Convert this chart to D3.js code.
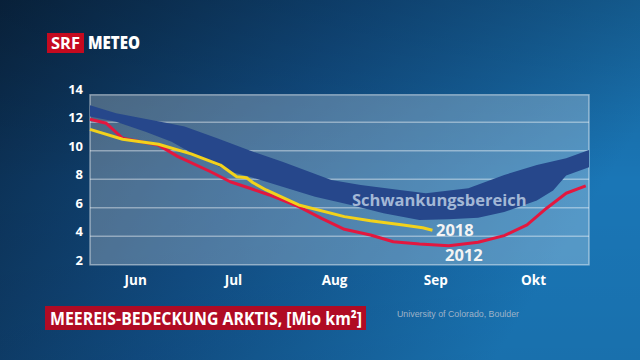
<!DOCTYPE html>
<html><head><meta charset="utf-8">
<script src="https://cdn.jsdelivr.net/npm/d3@7"></script>
<style>html,body{margin:0;padding:0;background:#0b2b4c;}svg{display:block;}</style>
</head><body>
<svg id="c" width="640" height="360"></svg>
<script>
// ---- data (Mio km², dates 2018 calendar) ----
const bandDatesTop = ["06-01","06-09","06-25","06-30","07-10","07-21","07-30","08-14","08-23","09-04","09-12","09-25","10-06","10-16","10-25","11-01"];
const bandTop      = [13.2,12.63,11.93,11.7,10.88,9.94,9.23,7.95,7.6,7.25,7.02,7.37,8.3,9.0,9.47,10.06];
const bandDatesBottom = ["06-01","06-09","06-18","06-26","07-05","07-14","07-20","07-30","08-09","08-20","08-30","09-10","09-19","09-28","10-06","10-16","10-21","10-25","11-01"];
const bandBottom      = [12.4,12.04,11.34,10.64,9.47,8.53,8.18,7.48,6.78,6.2,5.61,5.14,5.2,5.3,5.7,6.52,7.22,8.27,8.85];
const dates2012 = ["06-01","06-06","06-11","06-22","06-28","07-08","07-14","07-20","07-26","08-04","08-11","08-18","08-26","09-02","09-10","09-19","09-28","10-06","10-13","10-19","10-25","10-31"];
const values2012 = [12.21,11.93,10.88,10.4,9.59,8.53,7.83,7.37,6.9,6.08,5.26,4.49,4.09,3.62,3.46,3.34,3.58,4.05,4.8,5.97,7.02,7.54];
const dates2018 = ["06-01","06-11","06-22","07-02","07-11","07-16","07-19","07-21","07-25","08-04","08-18","08-26","09-05","09-11","09-14"];
const values2018 = [11.5,10.81,10.46,9.78,9.0,8.18,8.11,7.76,7.25,6.2,5.38,5.09,4.79,4.6,4.43];
const monthLabels = ["Jun","Jul","Aug","Sep","Okt"];
const monthTickDates = ["06-15","07-15","08-15","09-15","10-15"];
const yTicks = [2,4,6,8,10,12,14];
const title = "MEEREIS-BEDECKUNG ARKTIS, [Mio km²]";
const source = "University of Colorado, Boulder";
const bandLabel = "Schwankungsbereich";

const parse = s => d3.timeParse("%Y-%m-%d")("2018-" + s);

const svg = d3.select("#c");
const defs = svg.append("defs");
const bg = defs.append("linearGradient").attr("id","bg").attr("x1","0").attr("y1","0").attr("x2","1").attr("y2","0.35");
bg.append("stop").attr("offset","0").attr("stop-color","#0a2745");
bg.append("stop").attr("offset","0.5").attr("stop-color","#114c82");
bg.append("stop").attr("offset","1").attr("stop-color","#1a76b6");
const bgv = defs.append("linearGradient").attr("id","bgv").attr("x1","0").attr("y1","0").attr("x2","0").attr("y2","1");
bgv.append("stop").attr("offset","0").attr("stop-color","#000").attr("stop-opacity",0.18);
bgv.append("stop").attr("offset","0.5").attr("stop-color","#000").attr("stop-opacity",0);
bgv.append("stop").attr("offset","1").attr("stop-color","#000").attr("stop-opacity",0.05);

svg.append("rect").attr("width",640).attr("height",360).attr("fill","url(#bg)");
svg.append("rect").attr("width",640).attr("height",360).attr("fill","url(#bgv)");

const x = d3.scaleTime().domain([parse("06-01"), parse("11-01")]).range([90, 589]);
const y = d3.scaleLinear().domain([2,14]).range([264.8, 93.8]);

// plot area
svg.append("rect").attr("x",x.range()[0]).attr("y",y(14)+1).attr("width",x.range()[1]-x.range()[0]).attr("height",y(2)-y(14)-1)
  .attr("fill","#ffffff").attr("fill-opacity",0.26).attr("stroke","#ffffff").attr("stroke-opacity",0.45).attr("stroke-width",1.5);

// grid
svg.append("g").selectAll("line").data(yTicks.filter(d=>d>2 && d<14)).join("line")
  .attr("x1",x.range()[0]).attr("x2",x.range()[1]).attr("y1",d=>y(d)).attr("y2",d=>y(d))
  .attr("stroke","#ffffff").attr("stroke-opacity",0.4).attr("stroke-width",1.5);

// band
const topPts = bandDatesTop.map((d,i)=>[x(parse(d)), y(bandTop[i])]);
const botPts = bandDatesBottom.map((d,i)=>[x(parse(d)), y(bandBottom[i])]).reverse();
svg.append("path").attr("d", d3.line()(topPts.concat(botPts)) + "Z").attr("fill","#26478b");

svg.append("text").attr("x",352).attr("y",206).text(bandLabel)
  .attr("font-family","Open Sans").attr("font-weight",700).attr("font-size",16.5)
  .attr("fill","#a3b8d6");

const line = d3.line().x(d=>x(d[0])).y(d=>y(d[1]));
svg.append("path").datum(dates2012.map((d,i)=>[parse(d),values2012[i]])).attr("d",line)
  .attr("fill","none").attr("stroke","#e3173f").attr("stroke-width",3).attr("stroke-linejoin","round");
svg.append("path").datum(dates2018.map((d,i)=>[parse(d),values2018[i]])).attr("d",line)
  .attr("fill","none").attr("stroke","#f2d21b").attr("stroke-width",3).attr("stroke-linejoin","round");

const lab = {"font-family":"Open Sans","font-weight":700,"font-size":16.5,"fill":"#f4f4f4"};
const t18 = svg.append("text").attr("x",436).attr("y",236).text("2018");
const t12 = svg.append("text").attr("x",445).attr("y",261).text("2012");
[t18,t12].forEach(t=>Object.entries(lab).forEach(([k,v])=>t.attr(k,v)));

// y axis labels
svg.append("g").selectAll("text").data(yTicks).join("text")
  .attr("x",83).attr("y",d=>y(d)).attr("dy","-0.02em").attr("text-anchor","end")
  .attr("font-family","Open Sans").attr("font-weight",700).attr("font-size",13)
  .attr("fill","#ffffff").text(d=>d);

// x axis labels
svg.append("g").selectAll("text").data(monthLabels).join("text")
  .attr("x",(d,i)=>x(parse(monthTickDates[i]))).attr("y",285).attr("text-anchor","middle")
  .attr("font-family","Open Sans").attr("font-weight",700).attr("font-size",13.5)
  .attr("fill","#ffffff").text(d=>d);

// logo
svg.append("rect").attr("x",47).attr("y",33).attr("width",37).attr("height",20).attr("fill","#c50a1f");
svg.append("text").attr("x",65.5).attr("y",48.5).attr("text-anchor","middle").text("SRF")
  .attr("font-family","Open Sans").attr("font-weight",700).attr("font-size",16.5).attr("fill","#fff")
  .attr("textLength",29).attr("lengthAdjust","spacingAndGlyphs");
svg.append("text").attr("x",88).attr("y",48.5).text("METEO")
  .attr("font-family","Open Sans").attr("font-weight",800).attr("font-size",17.5).attr("fill","#fff")
  .attr("textLength",52).attr("lengthAdjust","spacingAndGlyphs");

// title
svg.append("rect").attr("x",45).attr("y",306).attr("width",321).attr("height",24).attr("fill","#b00b24");
svg.append("text").attr("x",50).attr("y",324.5).text(title)
  .attr("font-family","Open Sans").attr("font-weight",700).attr("font-size",18).attr("fill","#fff")
  .attr("textLength",312).attr("lengthAdjust","spacingAndGlyphs");

svg.append("text").attr("x",397).attr("y",317).text(source)
  .attr("font-family","Liberation Sans").attr("font-size",9.5).attr("fill","#9fb3c8")
  .attr("textLength",122).attr("lengthAdjust","spacingAndGlyphs");
</script>
</body></html>
